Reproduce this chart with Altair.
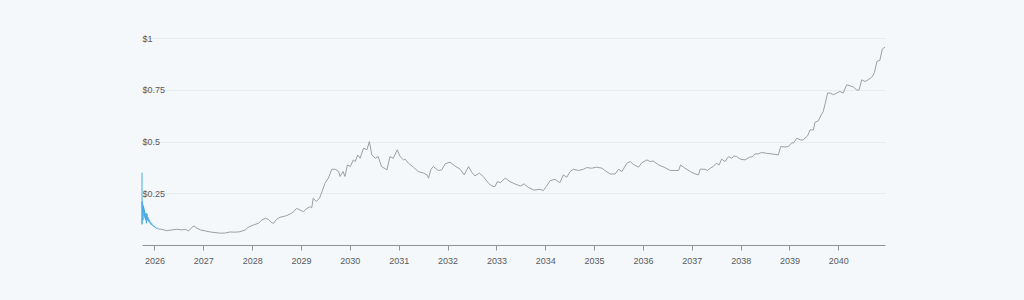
import altair as alt
import pandas as pd

# ---- data (x = decimal year, y = price in $) ----
hist_year = [2025.745, 2025.746, 2025.748, 2025.753, 2025.758, 2025.764, 2025.770, 2025.776, 2025.782, 2025.790,
             2025.797, 2025.805, 2025.812, 2025.820, 2025.828, 2025.835, 2025.842, 2025.850, 2025.858, 2025.866,
             2025.875, 2025.884, 2025.893, 2025.902, 2025.912, 2025.922, 2025.933, 2025.944, 2025.955, 2025.968,
             2025.980, 2025.995, 2026.010, 2026.025, 2026.040, 2026.060, 2026.080]
hist_price = [0.35, 0.10, 0.21, 0.17, 0.20, 0.12, 0.19, 0.16, 0.18, 0.14,
              0.17, 0.13, 0.15, 0.12, 0.155, 0.105, 0.14, 0.15, 0.12, 0.135,
              0.115, 0.125, 0.11, 0.118, 0.105, 0.11, 0.098, 0.104, 0.095, 0.097,
              0.09, 0.092, 0.085, 0.086, 0.08, 0.082, 0.077]

fc_year = [2026.08, 2026.15, 2026.25, 2026.36, 2026.46, 2026.56, 2026.63, 2026.70, 2026.77, 2026.81,
           2026.87, 2026.94, 2027.04, 2027.14, 2027.24, 2027.35, 2027.45, 2027.55, 2027.65, 2027.75,
           2027.86, 2027.92, 2028.03, 2028.13, 2028.20, 2028.27, 2028.33, 2028.40, 2028.44, 2028.50,
           2028.57, 2028.68, 2028.78, 2028.85, 2028.91, 2028.98, 2029.05, 2029.12, 2029.19, 2029.22,
           2029.25, 2029.31, 2029.38, 2029.43, 2029.49, 2029.56, 2029.63, 2029.70, 2029.77, 2029.80,
           2029.86, 2029.90, 2029.95, 2030.01, 2030.07, 2030.11, 2030.16, 2030.21, 2030.28, 2030.35,
           2030.40, 2030.45, 2030.52, 2030.58, 2030.65, 2030.76, 2030.82, 2030.89, 2030.97, 2031.03,
           2031.10, 2031.13, 2031.20, 2031.30, 2031.40, 2031.51, 2031.58, 2031.61, 2031.66, 2031.71,
           2031.81, 2031.88, 2031.95, 2032.05, 2032.15, 2032.26, 2032.34, 2032.43, 2032.50, 2032.56,
           2032.65, 2032.73, 2032.84, 2032.91, 2032.97, 2033.02, 2033.08, 2033.18, 2033.28, 2033.38,
           2033.49, 2033.57, 2033.65, 2033.76, 2033.79, 2033.89, 2033.96, 2034.02, 2034.10, 2034.20,
           2034.30, 2034.37, 2034.44, 2034.51, 2034.58, 2034.68, 2034.78, 2034.85, 2034.95, 2035.05,
           2035.16, 2035.22, 2035.33, 2035.43, 2035.50, 2035.57, 2035.67, 2035.74, 2035.80, 2035.91,
           2035.98, 2036.08, 2036.15, 2036.21, 2036.32, 2036.45, 2036.56, 2036.66, 2036.73, 2036.77,
           2036.86, 2036.97, 2037.07, 2037.14, 2037.17, 2037.27, 2037.32, 2037.37, 2037.44, 2037.50,
           2037.56, 2037.61, 2037.68, 2037.75, 2037.82, 2037.86, 2037.92, 2037.99, 2038.09, 2038.18,
           2038.25, 2038.29, 2038.36, 2038.43, 2038.53, 2038.64, 2038.77, 2038.82, 2038.91, 2038.98,
           2039.05, 2039.08, 2039.15, 2039.22, 2039.28, 2039.37, 2039.42, 2039.49, 2039.52, 2039.59,
           2039.65, 2039.69, 2039.73, 2039.78, 2039.83, 2039.90, 2039.97, 2040.03, 2040.10, 2040.17,
           2040.24, 2040.31, 2040.37, 2040.42, 2040.48, 2040.55, 2040.61, 2040.70, 2040.74, 2040.79,
           2040.85, 2040.90, 2040.955]
fc_price = [0.077, 0.076, 0.069, 0.073, 0.076, 0.073, 0.076, 0.068, 0.086, 0.092,
            0.081, 0.073, 0.068, 0.063, 0.060, 0.057, 0.058, 0.063, 0.062, 0.064,
            0.073, 0.086, 0.097, 0.105, 0.121, 0.129, 0.124, 0.108, 0.105, 0.124,
            0.134, 0.140, 0.150, 0.161, 0.177, 0.169, 0.161, 0.177, 0.185, 0.180,
            0.226, 0.210, 0.226, 0.258, 0.298, 0.323, 0.366, 0.366, 0.355, 0.331,
            0.355, 0.331, 0.387, 0.379, 0.411, 0.403, 0.435, 0.419, 0.468, 0.460,
            0.500, 0.435, 0.419, 0.427, 0.379, 0.363, 0.427, 0.419, 0.460, 0.427,
            0.411, 0.415, 0.395, 0.376, 0.355, 0.347, 0.339, 0.323, 0.366, 0.379,
            0.360, 0.363, 0.392, 0.400, 0.382, 0.366, 0.339, 0.379, 0.350, 0.334,
            0.347, 0.331, 0.298, 0.285, 0.282, 0.306, 0.301, 0.323, 0.306, 0.295,
            0.285, 0.295, 0.279, 0.266, 0.266, 0.269, 0.263, 0.282, 0.311, 0.317,
            0.301, 0.339, 0.327, 0.355, 0.366, 0.360, 0.366, 0.374, 0.371, 0.376,
            0.371, 0.360, 0.343, 0.343, 0.366, 0.355, 0.395, 0.403, 0.390, 0.376,
            0.398, 0.411, 0.403, 0.406, 0.387, 0.374, 0.360, 0.360, 0.360, 0.387,
            0.371, 0.355, 0.343, 0.339, 0.366, 0.366, 0.360, 0.370, 0.379, 0.395,
            0.387, 0.415, 0.403, 0.427, 0.419, 0.430, 0.427, 0.415, 0.411, 0.424,
            0.427, 0.440, 0.440, 0.447, 0.443, 0.440, 0.435, 0.476, 0.473, 0.476,
            0.495, 0.492, 0.516, 0.508, 0.508, 0.527, 0.556, 0.556, 0.592, 0.600,
            0.629, 0.645, 0.682, 0.734, 0.734, 0.726, 0.734, 0.742, 0.734, 0.774,
            0.769, 0.763, 0.750, 0.747, 0.798, 0.790, 0.798, 0.814, 0.834, 0.887,
            0.892, 0.947, 0.956]

year_ticks = list(range(2026, 2041))
price_ticks = [0.25, 0.5, 0.75, 1]

hist = pd.DataFrame({"year": hist_year, "price": hist_price})
fc = pd.DataFrame({"year": fc_year, "price": fc_price})

LABEL_FONT = "Liberation Sans"

x_enc = alt.X(
    "year:Q",
    scale=alt.Scale(domain=[2025.745, 2040.955], nice=False, zero=False),
    axis=alt.Axis(
        values=year_ticks, format="d", title=None, grid=False,
        domain=True, domainColor="#8e9399", domainWidth=1,
        ticks=True, tickColor="#8e9399", tickSize=5,
        labelPadding=6, labelFontSize=9, labelColor="#555a60", labelFont=LABEL_FONT,
        labelFlush=False, labelOverlap=False,
    ),
)
y_enc = alt.Y(
    "price:Q",
    scale=alt.Scale(domain=[0, 1], nice=False, zero=True),
    axis=alt.Axis(
        values=price_ticks, labelExpr="'$' + datum.value", title=None,
        domain=False, ticks=False, tickSize=0, grid=True, gridColor="#e8edf2", gridWidth=1,
        labelAlign="left", labelBaseline="middle", labelPadding=0,
        labelFontSize=9, labelColor="#555a60", labelFont=LABEL_FONT,
    ),
)

gray = alt.Chart(fc).mark_line(color="#9c9fa3", strokeWidth=1).encode(x=x_enc, y=y_enc)
blue = alt.Chart(hist).mark_line(color="#4aabe3", strokeWidth=1).encode(x=x_enc, y=y_enc)

chart = alt.layer(gray, blue).properties(
    width=743, height=207,
    background="#f5f8fb",
    padding={"left": 142, "top": 38, "right": 139, "bottom": 55},
    autosize=alt.AutoSizeParams(type="none"),
).configure_view(stroke=None)

chart.save("out.html", embed_options={"renderer": "svg", "actions": False})
